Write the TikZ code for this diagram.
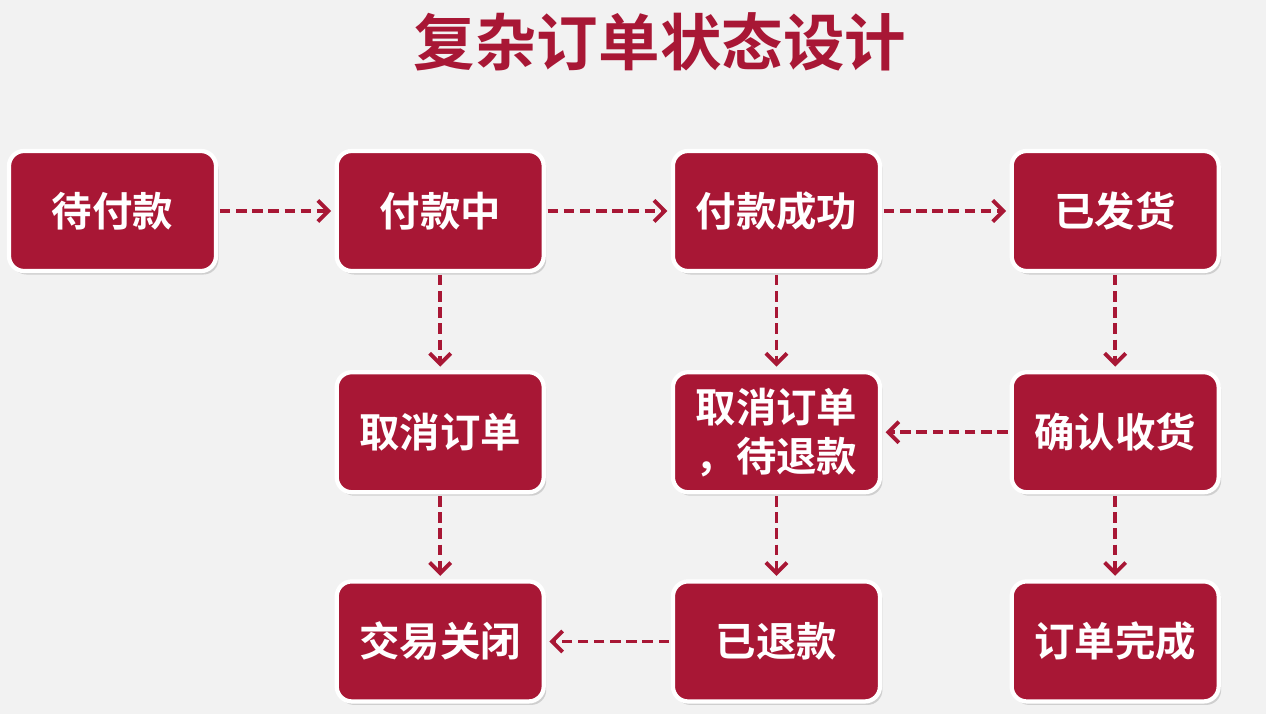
\documentclass[tikz,border=0pt]{standalone}
\usepackage{fontspec}
\setmainfont{Noto Sans CJK SC}[BoldFont={Noto Sans CJK SC Bold}]
\usepackage{tikz}
\usetikzlibrary{positioning,arrows.meta,shadows}
\definecolor{ordred}{HTML}{A81735}
\definecolor{bggray}{HTML}{F2F2F2}
\tikzset{
  state/.style={rectangle,rounded corners=3mm,draw=white,line width=2.4pt,fill=ordred,
    text=white,font=\fontsize{23}{28}\selectfont\bfseries,align=center,
    minimum width=4.14cm,minimum height=2.4cm,inner sep=0pt,
    drop shadow={opacity=0.3,shadow xshift=0.05cm,shadow yshift=-0.07cm}},
  flow/.style={draw=ordred,line width=2.2pt,dash pattern=on 6pt off 3.2pt,
    -{Straight Barb[length=6pt,width=12pt,line width=2.2pt]},shorten <=1pt,shorten >=2pt},
  title/.style={text=ordred,font=\fontsize{35}{40}\selectfont\bfseries}
}
\begin{document}
\begin{tikzpicture}
  \fill[bggray] (0,0) rectangle (25.32,14.28);
  \useasboundingbox (0,0) rectangle (25.32,14.28);

  \node[title] (head) at (13.2,13.44) {复杂订单状态设计};

  % first row
  \node[state] (unpaid) at (2.25,10.06) {待付款};
  \node[state,right=2.33cm of unpaid] (paying) {付款中};
  \node[state,right=2.5cm of paying] (paid) {付款成功};
  \node[state,right=2.55cm of paid] (shipped) {已发货};
  % second row
  \node[state,below=1.94cm of paying] (cancel) {取消订单};
  \node[state,below=1.94cm of paid] (refunding) {取消订单\\，待退款};
  \node[state,below=1.94cm of shipped] (received) {确认收货};
  % third row
  \node[state,below=1.7cm of cancel] (closed) {交易关闭};
  \node[state,below=1.7cm of refunding] (refunded) {已退款};
  \node[state,below=1.7cm of received] (done) {订单完成};

  \path (unpaid) edge[flow] (paying)
        (paying) edge[flow] (paid)
        (paid) edge[flow] (shipped)
        (paying) edge[flow] (cancel)
        (cancel) edge[flow] (closed)
        (paid) edge[flow] (refunding)
        (refunding) edge[flow] (refunded)
        (refunded) edge[flow] (closed)
        (shipped) edge[flow] (received)
        (received) edge[flow] (refunding)
        (received) edge[flow] (done);
\end{tikzpicture}
\end{document}
